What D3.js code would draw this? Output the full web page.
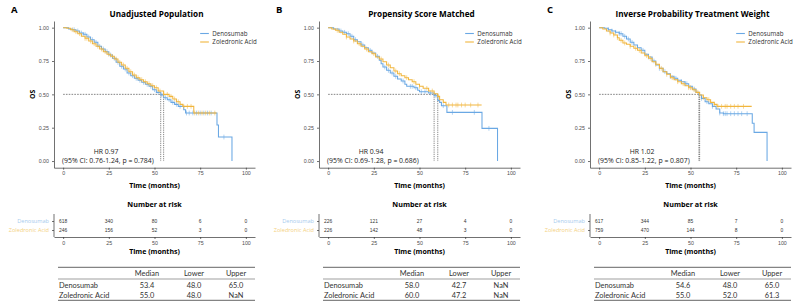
<!DOCTYPE html>
<html>
<head>
<meta charset="utf-8">
<script src="https://cdn.jsdelivr.net/npm/d3@7"></script>
<style>
  body { margin: 0; background: #fff; }
  svg { display: block; font-family: "Open Sans", "Liberation Sans", sans-serif; }
  .axis path, .axis line { stroke: #333; stroke-width: 0.7; }
  .axis text { fill: #4d4d4d; font-size: 5.3px; font-family: "Liberation Sans", sans-serif; }
</style>
</head>
<body>
<svg id="chart" width="797" height="308"></svg>
<script>
// ---- data ----
const panelIds = ['A', 'B', 'C'];
const titles = ['Unadjusted Population', 'Propensity Score Matched', 'Inverse Probability Treatment Weight'];
const groups = ['Denosumab', 'Zoledronic Acid'];
const hrLabels = ['HR 0.97', 'HR 0.94', 'HR 1.02'];
const ciLabels = ['(95% CI: 0.76-1.24, p = 0.784)', '(95% CI: 0.69-1.28, p = 0.686)', '(95% CI: 0.85-1.22, p = 0.807)'];

const yTicks = [0, 0.25, 0.5, 0.75, 1];
const timeTicks = [0, 25, 50, 75, 100];

// number at risk
const riskDenos = [[618, 340, 80, 6, 0], [226, 121, 27, 4, 0], [617, 344, 85, 7, 0]];
const riskZol = [[246, 156, 52, 3, 0], [226, 142, 48, 3, 0], [759, 470, 144, 8, 0]];

// median survival table
const tableCols = ['', 'Median', 'Lower', 'Upper'];
const medianDenos = [[53.4, 48.0, 65.0], [58.0, 42.7, NaN], [54.6, 48.0, 65.0]];
const medianZol = [[55.0, 48.0, NaN], [60.0, 47.2, NaN], [55.0, 52.0, 61.3]];

// KM steps [time, survival]
const kmDenosA = [[0,1],[3,0.99],[5,0.985],[7,0.975],[9,0.96],[11,0.95],[13,0.93],[15,0.91],[17,0.89],[19,0.86],[21,0.84],[23,0.82],[25,0.795],[27,0.77],[29,0.74],[31,0.71],[33,0.69],[35,0.66],[37,0.64],[39,0.62],[41,0.605],[43,0.59],[45,0.575],[47,0.56],[49,0.535],[51,0.515],[53.4,0.495],[55,0.475],[57,0.46],[59,0.44],[61,0.425],[63,0.41],[66,0.385],[67,0.36],[84.2,0.27],[85,0.18],[92.4,0]];
const kmZolA = [[0,1],[2,0.995],[4,0.985],[6,0.97],[8,0.955],[10,0.935],[12,0.92],[14,0.9],[16,0.88],[18,0.86],[20,0.84],[22,0.82],[24,0.8],[26,0.785],[28,0.765],[30,0.74],[32,0.72],[34,0.695],[36,0.67],[38,0.645],[40,0.625],[42,0.61],[44,0.595],[46,0.58],[48,0.565],[50,0.55],[52,0.525],[55,0.5],[58,0.485],[60,0.465],[62,0.445],[64,0.425],[65.5,0.41],[71.5,0.36],[84,0.36]];
const kmDenosB = [[0,1],[3,0.99],[6,0.975],[8,0.965],[10,0.955],[12,0.935],[14,0.91],[16,0.895],[18,0.87],[20,0.85],[22,0.83],[24,0.81],[26,0.785],[28,0.755],[29,0.73],[30,0.705],[32,0.68],[34,0.66],[36,0.635],[38,0.615],[40,0.6],[42,0.575],[43,0.56],[47,0.55],[49,0.53],[50,0.52],[55,0.51],[58,0.49],[60,0.455],[61,0.44],[62,0.415],[65,0.365],[84.2,0.245],[92.7,0]];
const kmZolB = [[0,1],[2,0.99],[4,0.98],[6,0.965],[8,0.95],[10,0.93],[12,0.915],[14,0.9],[16,0.88],[18,0.86],[20,0.84],[22,0.82],[24,0.805],[26,0.78],[28,0.765],[30,0.745],[32,0.72],[34,0.7],[36,0.675],[38,0.655],[40,0.64],[42,0.625],[44,0.61],[46,0.595],[48,0.575],[50,0.56],[52,0.545],[55,0.525],[58,0.505],[60,0.485],[61,0.46],[63,0.44],[64.5,0.42],[84,0.42]];
const kmDenosC = [[0,1],[3,0.995],[5,0.985],[7,0.975],[9,0.965],[11,0.955],[13,0.935],[15,0.915],[17,0.89],[19,0.87],[21,0.85],[23,0.83],[25,0.8],[27,0.78],[29,0.75],[31,0.72],[33,0.695],[35,0.67],[37,0.655],[39,0.635],[41,0.62],[43,0.605],[45,0.595],[47,0.58],[49,0.56],[51,0.54],[53,0.515],[54.6,0.495],[56,0.47],[58,0.445],[60,0.43],[62,0.41],[64,0.39],[66,0.36],[68,0.355],[83.8,0.283],[84.8,0.215],[91.9,0]];
const kmZolC = [[0,1],[2,0.99],[4,0.975],[6,0.96],[8,0.945],[10,0.925],[11,0.905],[13,0.885],[15,0.875],[17,0.86],[19,0.845],[21,0.83],[23,0.81],[25,0.79],[27,0.77],[29,0.745],[31,0.725],[33,0.695],[35,0.67],[37,0.65],[39,0.625],[41,0.61],[43,0.595],[45,0.58],[47,0.565],[49,0.55],[51,0.535],[53,0.515],[55,0.495],[57,0.475],[59,0.46],[61,0.44],[63,0.425],[64.5,0.41],[83.5,0.41]];

// censoring times
const censDenosA = [6,8,10,11,12,14,16,18,20,22,24,26,28,30,32,34,36,38,40,42,44,46,48,50,52,54,56,58,60,62,64,67.5,69,71,73,75,77,79,81,88];
const censZolA = [5,7,9,12,13,15,17,19,21,23,25,27,29,31,33,35,37,39,41,43,45,47,49,51,53,55,57,59,61,63,66,68,70,72,74,76,78,80,83];
const censDenosB = [7,9,11,13,15,19,23,27,31,33,35,37,41,45,46,48,51,53,56,59,63,68,80,88];
const censZolB = [5,10,14,17,21,25,29,33,37,39,43,47,50,54,57,60,66,68,70,71,73,75,78,82];
const censDenosC = [5,7,9,11,12,14,16,18,21,24,27,30,33,36,39,42,45,47,48,52,56,59,62,66,68,69,70,72,74,76,78,81];
const censZolC = [6,8,10,12,14,17,20,22,26,28,31,34,37,40,43,46,49,50,52,54,57,60,63,65,67,69,70,72,74,76,79];

const kmDenos = [kmDenosA, kmDenosB, kmDenosC];
const kmZol = [kmZolA, kmZolB, kmZolC];
const censDenos = [censDenosA, censDenosB, censDenosC];
const censZol = [censZolA, censZolB, censZolC];

// ---- layout ----
const colors = { Denosumab: '#6aa8e4', 'Zoledronic Acid': '#f1b63e' };
const labelColors = { Denosumab: '#a7cbee', 'Zoledronic Acid': '#f4d17f' };
const panelX = [0, 265, 536];

const svg = d3.select('#chart');

// survival value at time t from the step data
function survAt(steps, t) {
  let s = 1;
  steps.forEach(([tt, ss]) => { if (tt <= t) s = ss; });
  return s;
}

panelIds.forEach((id, i) => {
  const g = svg.append('g').attr('transform', `translate(${panelX[i]},0)`);

  const x = d3.scaleLinear().domain([-5, 105]).range([54, 255]);
  const y = d3.scaleLinear().domain([-0.05, 1.05]).range([167.7, 21]);
  const mid = (x(0) + x(100)) / 2;

  // panel letter + title
  g.append('text').attr('x', 11).attr('y', 13)
    .style('font-size', '9.5px').style('font-weight', 700).text(id);
  g.append('text').attr('x', mid + 2).attr('y', 17)
    .attr('text-anchor', 'middle')
    .style('font-size', '8.2px').style('font-weight', 700).text(titles[i]);

  // axes
  g.append('g').attr('class', 'axis')
    .attr('transform', `translate(${x(-5)},0)`)
    .call(d3.axisLeft(y).tickValues(yTicks).tickFormat(d3.format('.2f')).tickSize(2).tickSizeOuter(0).tickPadding(3));
  g.append('g').attr('class', 'axis')
    .attr('transform', `translate(0,${y(-0.05)})`)
    .call(d3.axisBottom(x).tickValues(timeTicks).tickSize(2).tickSizeOuter(0).tickPadding(2));

  g.append('text')
    .attr('transform', `translate(33,${y(0.5)}) rotate(-90)`)
    .attr('text-anchor', 'middle').attr('dy', '0.35em')
    .style('font-size', '6.8px').style('font-weight', 700).text('OS');

  g.append('text').attr('x', mid).attr('y', 187.5)
    .attr('text-anchor', 'middle')
    .style('font-size', '7px').style('font-weight', 700).text('Time (months)');

  // median reference lines
  const meds = [medianDenos[i][0], medianZol[i][0]];
  g.append('line')
    .attr('x1', x(0)).attr('x2', x(d3.max(meds)))
    .attr('y1', y(0.5)).attr('y2', y(0.5))
    .attr('stroke', '#333').attr('stroke-width', 0.6).attr('stroke-dasharray', '1.6,1.2');
  g.selectAll('line.med')
    .data(meds)
    .join('line')
    .attr('class', 'med')
    .attr('x1', (d) => x(d)).attr('x2', (d) => x(d))
    .attr('y1', y(0.5)).attr('y2', y(0))
    .attr('stroke', '#333').attr('stroke-width', 0.6).attr('stroke-dasharray', '1.2,1');

  // KM curves
  const series = [
    { name: 'Denosumab', steps: kmDenos[i], cens: censDenos[i] },
    { name: 'Zoledronic Acid', steps: kmZol[i], cens: censZol[i] },
  ];
  const lineGenerator = d3.line()
    .x((d) => x(d[0]))
    .y((d) => y(d[1]))
    .curve(d3.curveStepAfter);

  series.forEach((s) => {
    g.append('path')
      .attr('d', lineGenerator(s.steps))
      .attr('fill', 'none')
      .attr('stroke', colors[s.name])
      .attr('stroke-width', 1.05);
    g.selectAll(null)
      .data(s.cens)
      .join('line')
      .attr('x1', (d) => x(d)).attr('x2', (d) => x(d))
      .attr('y1', (d) => y(survAt(s.steps, d)) - 2.4)
      .attr('y2', (d) => y(survAt(s.steps, d)) + 2.4)
      .attr('stroke', colors[s.name])
      .attr('stroke-opacity', 0.75)
      .attr('stroke-width', 0.7);
  });

  // legend
  const legend = g.append('g');
  groups.forEach((name, k) => {
    const ly = 33.5 + k * 8.5;
    legend.append('line')
      .attr('x1', x(100) - 45.7).attr('x2', x(100) - 37)
      .attr('y1', ly).attr('y2', ly)
      .attr('stroke', colors[name]).attr('stroke-width', 1.1);
    legend.append('text')
      .attr('x', x(100) - 33.5).attr('y', ly).attr('dy', '0.35em')
      .style('font-size', '6.2px').style('fill', '#333').text(name);
  });

  // HR annotation
  g.append('text').attr('x', x(23.5)).attr('y', y(0.07)).attr('dy', '0.35em')
    .attr('text-anchor', 'middle').style('font-size', '6.9px').style('fill', '#222')
    .text(hrLabels[i]);
  g.append('text').attr('x', x(24.5)).attr('y', y(0.0)).attr('dy', '0.35em')
    .attr('text-anchor', 'middle').style('font-size', '6.9px').style('fill', '#222')
    .text(ciLabels[i]);

  // ---- number at risk ----
  g.append('text').attr('x', mid).attr('y', 206.5)
    .attr('text-anchor', 'middle')
    .style('font-size', '7.2px').style('font-weight', 700).text('Number at risk');

  const yr = d3.scalePoint().domain(groups).range([221, 230]);
  g.append('line').attr('x1', x(-5)).attr('x2', x(-5)).attr('y1', 214).attr('y2', 237)
    .attr('stroke', '#333').attr('stroke-width', 0.7);
  g.append('g').attr('class', 'axis')
    .attr('transform', `translate(${x(-5)},0)`)
    .call(d3.axisLeft(yr).tickSize(2).tickFormat(''))
    .call((a) => a.select('.domain').remove());
  g.append('g').attr('class', 'axis')
    .attr('transform', 'translate(0,237)')
    .call(d3.axisBottom(x).tickValues(timeTicks).tickSize(2).tickSizeOuter(0).tickPadding(2));

  groups.forEach((name) => {
    g.append('text').attr('x', 49).attr('y', yr(name)).attr('dy', '0.35em')
      .attr('text-anchor', 'end')
      .style('font-size', '5.6px').style('fill', labelColors[name]).text(name);
  });
  const riskRows = [riskDenos[i], riskZol[i]];
  riskRows.forEach((vals, k) => {
    g.selectAll(null)
      .data(vals)
      .join('text')
      .attr('x', (d, j) => x(timeTicks[j]))
      .attr('y', yr(groups[k])).attr('dy', '0.35em')
      .attr('text-anchor', 'middle')
      .style('font-size', '4.9px').style('fill', '#333')
      .style('font-family', '"Liberation Sans", sans-serif')
      .text((d) => d);
  });

  g.append('text').attr('x', mid).attr('y', 253.5)
    .attr('text-anchor', 'middle')
    .style('font-size', '7px').style('font-weight', 700).text('Time (months)');

  // ---- median table ----
  const colX = d3.scaleOrdinal().domain(tableCols).range([59, 147, 194, 236]);
  const tbl = g.append('g').style('font-family', 'Lato, sans-serif').style('font-size', '7.4px').style('fill', '#333');
  tbl.append('line').attr('x1', 58).attr('x2', 255).attr('y1', 267.3).attr('y2', 267.3)
    .attr('stroke', '#555').attr('stroke-width', 0.9);
  tbl.append('line').attr('x1', 58).attr('x2', 255).attr('y1', 279).attr('y2', 279)
    .attr('stroke', '#777').attr('stroke-width', 0.7);
  tbl.append('line').attr('x1', 58).attr('x2', 255).attr('y1', 300.3).attr('y2', 300.3)
    .attr('stroke', '#555').attr('stroke-width', 0.9);
  tableCols.slice(1).forEach((c) => {
    tbl.append('text').attr('x', colX(c)).attr('y', 273.8).attr('dy', '0.35em')
      .attr('text-anchor', 'middle').text(c);
  });
  const rows = [['Denosumab', medianDenos[i]], ['Zoledronic Acid', medianZol[i]]];
  rows.forEach(([name, vals], k) => {
    const ry = 285.7 + k * 9.6;
    tbl.append('text').attr('x', colX('')).attr('y', ry).attr('dy', '0.35em').text(name);
    vals.forEach((v, j) => {
      tbl.append('text').attr('x', colX(tableCols[j + 1])).attr('y', ry).attr('dy', '0.35em')
        .attr('text-anchor', 'middle')
        .text(isNaN(v) ? 'NaN' : v.toFixed(1));
    });
  });
});
</script>
</body>
</html>
